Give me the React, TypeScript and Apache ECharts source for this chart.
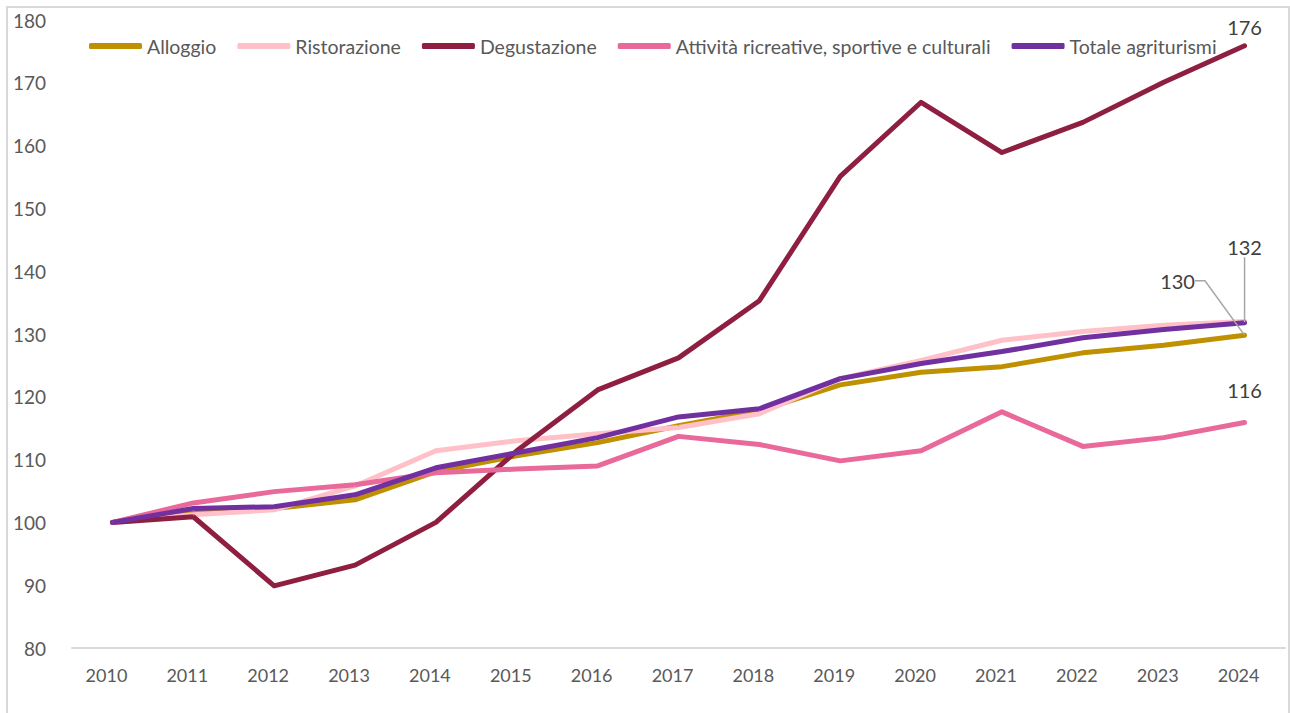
import React, { useEffect, useRef } from "react";
import * as echarts from "echarts";

const years = ["2010","2011","2012","2013","2014","2015","2016","2017","2018","2019","2020","2021","2022","2023","2024"];
const alloggio = [100, 101.9, 102.2, 103.6, 108.1, 110.6, 112.7, 115.4, 117.8, 121.9, 123.9, 124.8, 127.0, 128.2, 129.8];
const ristorazione = [100, 101.2, 102.0, 105.8, 111.4, 113.0, 114.1, 115.1, 117.3, 122.9, 125.8, 129.0, 130.4, 131.4, 132.0];
const degustazione = [100, 100.9, 89.9, 93.2, 100.0, 111.4, 121.1, 126.2, 135.3, 155.1, 166.9, 158.9, 163.7, 170.1, 175.9];
const attivita = [100, 103.1, 104.9, 106.0, 107.9, 108.5, 109.0, 113.7, 112.4, 109.8, 111.4, 117.6, 112.1, 113.5, 115.9];
const totale = [100, 102.2, 102.5, 104.4, 108.7, 111.1, 113.5, 116.8, 118.1, 122.9, 125.3, 127.2, 129.4, 130.7, 131.8];

const names = ["Alloggio", "Ristorazione", "Degustazione", "Attività ricreative, sportive e culturali", "Totale agriturismi"];
const colors = ["#BF9000", "#FFC0C8", "#8E1F40", "#E8699A", "#7030A0"];

const FONT = "Lato, 'Noto Sans', sans-serif";

function withLastLabel(values: number[], show: boolean) {
  return values.map((v, i) =>
    i === values.length - 1 && show
      ? { value: v, label: { show: true } }
      : v
  );
}

export default function App() {
  const ref = useRef<HTMLDivElement>(null);
  useEffect(() => {
    if (!ref.current) return;
    const chart = echarts.init(ref.current, undefined, { renderer: "svg" });
    const labelStyle = {
      show: false,
      color: "#404040",
      fontSize: 20,
      fontFamily: FONT,
      formatter: (p: any) => Math.round(p.value).toString(),
    };
    const series: any[] = [
      {
        name: names[0],
        data: withLastLabel(alloggio, true),
        label: { ...labelStyle, position: "top", padding: [0, 10, 0, 0] },
        labelLayout: { dx: -62, dy: -39 },
        labelLine: { show: true, length2: 10, lineStyle: { color: "#A6A6A6", width: 1.5 } },
      },
      { name: names[1], data: ristorazione },
      {
        name: names[2],
        data: withLastLabel(degustazione, true),
        label: { ...labelStyle, position: "top", distance: 8 },
      },
      {
        name: names[3],
        data: withLastLabel(attivita, true),
        label: { ...labelStyle, position: "top", distance: 22 },
      },
      {
        name: names[4],
        data: withLastLabel(totale, true),
        label: { ...labelStyle, position: "top", padding: [0, 0, 7, 0] },
        labelLayout: { dy: -53 },
        labelLine: { show: true, lineStyle: { color: "#A6A6A6", width: 1.5 } },
      },
    ].map((s, i) => ({
      type: "line",
      symbol: "circle",
      symbolSize: 1,
      showSymbol: true,
      smooth: false,
      lineStyle: { width: 5, color: colors[i], cap: "round", join: "round" },
      itemStyle: { color: colors[i] },
      emphasis: { disabled: true },
      ...s,
    }));

    chart.setOption({
      animation: false,
      color: colors,
      grid: { left: 72, right: 5, top: 20, bottom: 65, containLabel: false },
      legend: {
        data: names,
        top: 31,
        left: 84,
        itemWidth: 53,
        itemHeight: 6,
        itemGap: 21,
        icon: "roundRect",
        textStyle: { color: "#595959", fontSize: 19.5, fontFamily: FONT },
      },
      xAxis: {
        type: "category",
        data: years,
        boundaryGap: true,
        axisLine: { lineStyle: { color: "#D9D9D9", width: 2 } },
        axisTick: { show: false },
        axisLabel: { color: "#595959", fontSize: 18, fontFamily: FONT, margin: 18, padding: [0, 12, 0, 0] },
        splitLine: { show: false },
      },
      yAxis: {
        type: "value",
        min: 80,
        max: 180,
        interval: 10,
        axisLine: { show: false },
        axisTick: { show: false },
        splitLine: { show: false },
        axisLabel: { color: "#595959", fontSize: 19, fontFamily: FONT, margin: 26 },
      },
      series,
    });
    return () => chart.dispose();
  }, []);

  return (
    <div style={{ position: "absolute", left: 0, top: 0, width: 1290, height: 713, background: "#fff", overflow: "hidden" }}>
      <div
        style={{
          position: "absolute",
          left: 6,
          top: 6,
          width: 1280,
          height: 720,
          borderLeft: "2px solid #D9D9D9",
          borderTop: "2px solid #D9D9D9",
          borderRight: "2px solid #D9D9D9",
        }}
      />
      <div ref={ref} style={{ position: "absolute", left: 0, top: 0, width: 1290, height: 713 }} />
    </div>
  );
}
